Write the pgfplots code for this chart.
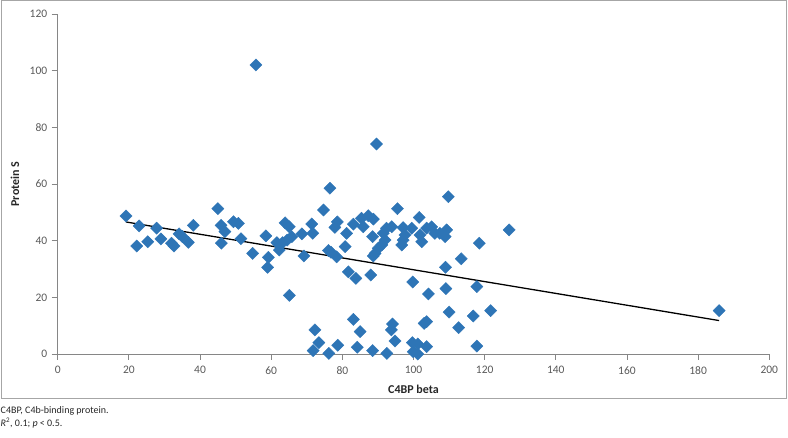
\documentclass[border=0pt]{standalone}
\usepackage{pgfplots}
\pgfplotsset{compat=1.18}
\usepackage{fontspec}
\setmainfont{Carlito}
\definecolor{ptblue}{HTML}{2E75B6}
\definecolor{tickgray}{HTML}{595959}
\definecolor{axgray}{HTML}{868686}
\definecolor{labgray}{HTML}{262626}
\definecolor{framegray}{HTML}{A6A6A6}
\pgfplotstableread{
x y
19.2 48.7
22.2 38.1
22.9 45.2
25.3 39.6
27.8 44.4
29.0 40.6
32.0 39.1
32.7 38.1
34.1 42.4
35.0 41.5
36.7 39.4
38.1 45.4
45.0 51.3
45.9 45.4
46.0 39.1
47.0 43.2
49.4 46.7
50.8 46.1
51.5 40.7
54.8 35.5
55.7 102.0
58.5 41.7
59.2 34.1
59.0 30.6
61.6 39.3
62.3 36.7
63.2 39.3
63.9 46.3
65.1 44.9
64.5 40.2
65.8 41.4
65.1 20.7
68.6 42.4
69.2 34.6
71.4 45.9
71.7 42.6
74.7 50.8
76.5 58.5
76.1 36.5
76.8 35.9
77.9 44.7
78.6 46.6
78.4 34.3
80.8 37.9
81.7 29.0
81.2 42.6
83.1 45.8
83.8 26.7
85.4 47.9
85.9 44.9
87.3 48.8
88.7 47.6
88.0 27.9
88.7 34.6
88.5 41.4
89.2 35.5
89.6 74.1
90.1 37.3
91.1 38.5
92.0 40.2
91.5 42.6
92.4 44.4
93.9 44.9
95.5 51.3
96.7 38.5
97.1 40.2
97.6 42.0
97.1 44.6
99.5 44.4
101.6 48.2
101.8 42.0
102.3 39.6
103.7 44.4
105.1 44.9
106.0 42.6
107.4 42.6
108.9 41.4
109.3 43.8
109.8 55.5
126.9 43.8
118.5 39.1
113.4 33.6
109.0 30.6
99.8 25.4
109.1 23.1
117.8 23.8
104.2 21.2
110.0 14.8
121.7 15.3
116.8 13.4
112.7 9.3
103.7 11.4
103.0 10.8
117.8 2.8
103.7 2.6
99.7 4.0
101.2 3.5
99.9 0.8
101.2 0.0
92.5 0.2
94.1 10.6
93.8 8.5
94.8 4.6
71.8 1.2
72.3 8.5
73.4 4.0
76.2 0.2
78.7 3.1
83.1 12.2
85.0 7.9
84.2 2.4
88.5 1.2
185.9 15.3
}\scatterdata
\begin{document}
\begin{tikzpicture}[x=1pt,y=1pt]
\path[use as bounding box] (0,0) rectangle (788,438);
\draw[framegray, line width=1pt] (1.5,39) rectangle (786.5,437.5);
\begin{axis}[
  at={(57.7pt,84pt)}, anchor=south west,
  width=711.6pt, height=340pt, scale only axis,
  xmin=0, xmax=200, ymin=0, ymax=120,
  axis lines*=left,
  x axis line style={-}, y axis line style={-},
  axis line style={axgray, line width=0.8pt},
  xtick={0,20,...,200}, ytick={0,20,...,120},
  tick align=outside, major tick length=6pt,
  tick style={axgray, line width=0.8pt},
  /pgf/number format/assume math mode=true,
  ticklabel style={font=\fontsize{11.5}{13}\selectfont, text=tickgray},
  xticklabel style={yshift=-3pt},
  yticklabel style={xshift=-1pt},
  clip=false,
  xlabel={C4BP beta}, ylabel={Protein S},
  label style={font=\bfseries\fontsize{12}{14}\selectfont, text=labgray},
  xlabel style={at={(axis description cs:0.5,-0.103)}, anchor=center},
  ylabel style={at={(axis description cs:-0.06,0.5)}, anchor=center},
]
\addplot[only marks, mark=square*, mark size=4.3pt,
  mark options={rotate=45, fill=ptblue, draw=ptblue}] table[x=x,y=y] {\scatterdata};
\addplot[black, line width=1.3pt] coordinates {(19.2,46.6) (185.9,11.8)};
\end{axis}
\node[anchor=west, inner sep=0pt, font=\fontsize{10}{12}\selectfont, text=labgray] at (0.5,27) {C4BP, C4b-binding protein.};
\node[anchor=west, inner sep=0pt, font=\fontsize{10}{12}\selectfont, text=labgray] at (0.5,15) {\textit{R}\textsuperscript{2}, 0.1; \textit{p} < 0.5.};
\end{tikzpicture}
\end{document}
